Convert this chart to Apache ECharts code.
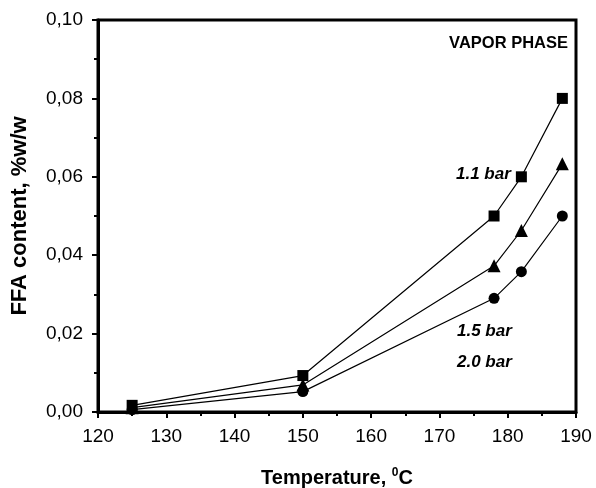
<!doctype html>
<html lang="en">
<head>
<meta charset="utf-8">
<title>FFA content vs temperature</title>
<script src="https://cdn.jsdelivr.net/npm/echarts@6/dist/echarts.min.js"></script>
<style>
  html, body { margin: 0; padding: 0; background: #fff; }
</style>
</head>
<body>
<div id="chart" style="width:596px;height:488px;"></div>
<script>
// temperatures (deg C)
var temps = [125, 150, 178, 182, 188];
// FFA content, %w/w, per pressure
var bar11 = [0.0017, 0.0093, 0.050, 0.060, 0.080];
var bar15 = [0.0011, 0.0069, 0.0373, 0.0463, 0.0633];
var bar20 = [0.0006, 0.0052, 0.029, 0.0358, 0.050];
var seriesNames = ['1.1 bar', '1.5 bar', '2.0 bar'];

var font = 'Liberation Sans, Arial, sans-serif';

function pairs(vals) {
    return temps.map(function (t, i) { return [t, vals[i]]; });
}

function mkSeries(name, vals, symbol, size) {
    return {
        name: name,
        type: 'line',
        data: pairs(vals),
        symbol: symbol,
        symbolSize: size,
        showAllSymbol: true,
        lineStyle: { color: '#000', width: 1.2 },
        itemStyle: { color: '#000' },
        z: 3
    };
}

var chart = echarts.init(document.getElementById('chart'));

chart.setOption({
    animation: false,
    backgroundColor: '#fff',
    grid: {
        left: 98, right: 20, top: 20, bottom: 76,
        outerBoundsMode: 'none',
        show: true, borderColor: '#000', borderWidth: 3
    },
    xAxis: {
        type: 'value',
        min: 120, max: 190, interval: 10,
        name: 'Temperature, {sup|0}C',
        nameLocation: 'middle',
        nameGap: 55,
        nameTextStyle: {
            fontFamily: font, fontSize: 20, fontWeight: 'bold', color: '#000',
            rich: { sup: { fontFamily: font, fontSize: 12, fontWeight: 'bold', color: '#000', verticalAlign: 'top', padding: [0, 0, 10, 0] } }
        },
        axisLine: { lineStyle: { color: '#000', width: 3 } },
        axisTick: { inside: false, length: 6, lineStyle: { color: '#000', width: 2 } },
        minorTick: { show: true, splitNumber: 2, length: 4, lineStyle: { color: '#000', width: 2 } },
        splitLine: { show: false },
        axisLabel: { fontFamily: font, fontSize: 19, color: '#000', margin: 15 }
    },
    yAxis: {
        type: 'value',
        min: 0, max: 0.1, interval: 0.02,
        name: 'FFA content, %w/w',
        nameLocation: 'middle',
        nameGap: 67,
        nameTextStyle: { fontFamily: font, fontSize: 22, fontWeight: 'bold', color: '#000' },
        axisLine: { lineStyle: { color: '#000', width: 3 } },
        axisTick: { inside: false, length: 6, lineStyle: { color: '#000', width: 2 } },
        minorTick: { show: true, splitNumber: 2, length: 4, lineStyle: { color: '#000', width: 2 } },
        splitLine: { show: false },
        axisLabel: {
            fontFamily: font, fontSize: 19, color: '#000', margin: 15,
            formatter: function (v) { return v.toFixed(2).replace('.', ','); }
        }
    },
    series: [
        mkSeries(seriesNames[0], bar11, 'rect', 11),
        mkSeries(seriesNames[1], bar15, 'triangle', 13),
        mkSeries(seriesNames[2], bar20, 'circle', 11)
    ],
    graphic: [
        { type: 'text', right: 28, top: 35,
          style: { text: 'VAPOR PHASE', fontFamily: font, fontSize: 16.5, fontWeight: 'bold', fill: '#000' } },
        { type: 'text', left: 456, top: 166,
          style: { text: seriesNames[0], fontFamily: font, fontSize: 17, fontWeight: 'bold', fontStyle: 'italic', fill: '#000' } },
        { type: 'text', left: 457, top: 323,
          style: { text: seriesNames[1], fontFamily: font, fontSize: 17, fontWeight: 'bold', fontStyle: 'italic', fill: '#000' } },
        { type: 'text', left: 457, top: 354,
          style: { text: seriesNames[2], fontFamily: font, fontSize: 17, fontWeight: 'bold', fontStyle: 'italic', fill: '#000' } }
    ]
});
</script>
</body>
</html>
